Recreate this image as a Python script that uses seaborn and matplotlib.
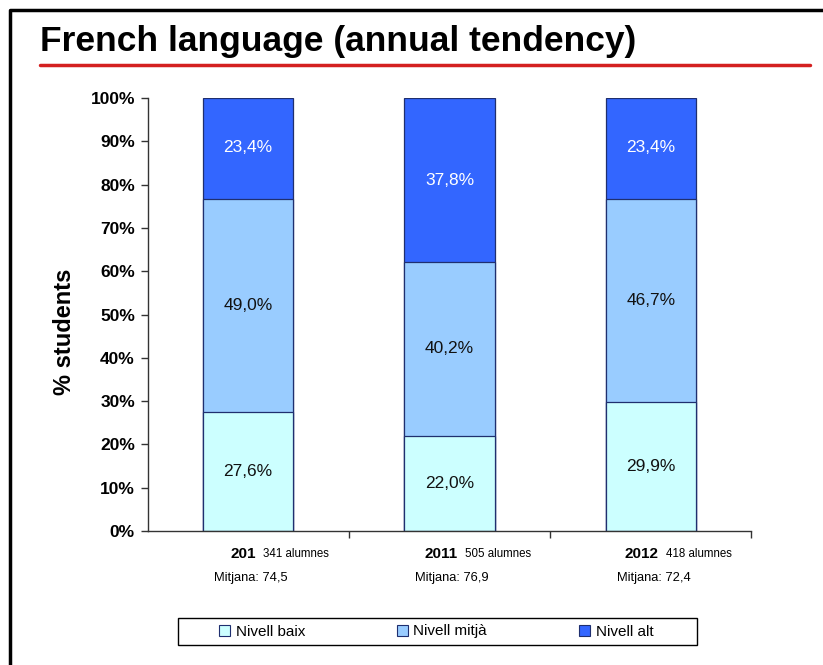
import pandas as pd
import matplotlib.pyplot as plt
import seaborn as sns
from matplotlib.patches import Patch, Rectangle
from matplotlib.lines import Line2D

# Data
years = ["201", "2011", "2012"]
students = ["341 alumnes", "505 alumnes", "418 alumnes"]
means = ["Mitjana: 74,5", "Mitjana: 76,9", "Mitjana: 72,4"]
baix = [27.6, 22.0, 29.9]
mitja = [49.0, 40.2, 46.7]
alt = [23.4, 37.8, 23.4]

levels = ["Nivell baix", "Nivell mitjà", "Nivell alt"]
colors = ["#CCFFFF", "#99CCFF", "#3366FF"]

sns.set_style("white")
plt.rcParams['font.family'] = ['Liberation Sans', 'DejaVu Sans']
plt.rcParams['text.color'] = 'black'
plt.rcParams['axes.labelcolor'] = 'black'
plt.rcParams['ytick.color'] = 'black'

df = pd.DataFrame({"year": years, "baix": baix, "mitja": mitja, "alt": alt})
df["cum1"] = df["baix"]
df["cum2"] = df["baix"] + df["mitja"]
df["cum3"] = df["cum2"] + df["alt"]

fig = plt.figure(figsize=(8.23, 6.65), dpi=100)
ax = fig.add_axes([147.5 / 823, 0.2015, 604 / 823, 0.651])

# stacked bars: draw tallest first
for col, c in zip(["cum3", "cum2", "cum1"], colors[::-1]):
    sns.barplot(data=df, x="year", y=col, color=c, width=0.448,
                edgecolor="#1F2F6F", linewidth=0.9, saturation=1, ax=ax)

# segment labels
for i in range(len(years)):
    segs = [(0, baix[i]), (baix[i], mitja[i]), (baix[i] + mitja[i], alt[i])]
    for j, (b, h) in enumerate(segs):
        yy = b + h / 2 if j < 2 else b + h - 11.5
        if j == 2 and h > 30:
            yy = b + h - 19
        ax.text(i, yy, f"{h:.1f}%".replace(".", ","), ha="center", va="center",
                fontsize=12.5, color="white" if j == 2 else "#111111")

ax.set_xlim(-0.5, 2.5)
ax.set_ylim(0, 100)
ax.set_yticks(range(0, 101, 10))
ax.set_yticklabels([f"{v}%" for v in range(0, 101, 10)], fontweight="bold", fontsize=12.5)
ax.set_xticks([0.5, 1.5, 2.5])
ax.set_xticklabels([])
ax.tick_params(axis="both", direction="out", length=5, width=1, color="#333333",
               left=True, bottom=True, pad=4)
ax.set_xlabel("")
ax.set_ylabel("% students", fontweight="bold", fontsize=17)
ax.yaxis.set_label_coords(-0.118, 0.46)
for s in ["top", "right"]:
    ax.spines[s].set_visible(False)
for s in ["left", "bottom"]:
    ax.spines[s].set_color("#333333")
    ax.spines[s].set_linewidth(1)

tr = ax.get_xaxis_transform()
for i in range(len(years)):
    ax.text(i + 0.04, -0.052, years[i], transform=tr, ha="right", va="center",
            fontsize=11, fontweight="bold")
    ax.text(i + 0.075, -0.052, students[i], transform=tr, ha="left", va="center", fontsize=8.3)
    ax.text(i - 0.17, -0.108, means[i], transform=tr, ha="left", va="center", fontsize=9.3)

# title and red rule
fig.text(40 / 823, 1 - 42 / 665, "French language (annual tendency)", fontsize=25.5,
         fontweight="bold", ha="left", va="center")
fig.add_artist(Line2D([40 / 823, 810 / 823], [1 - 65 / 665, 1 - 65 / 665],
                      color="#D42020", linewidth=2.5, transform=fig.transFigure))
# frame on left / top
fig.add_artist(Line2D([10 / 823, 10 / 823, 1], [0, 1 - 10 / 665, 1 - 10 / 665],
                      color="black", linewidth=2.5, transform=fig.transFigure))

# legend box
fig.add_artist(Rectangle((178 / 823, 1 - 645 / 665), 519 / 823, 27 / 665,
                         transform=fig.transFigure, facecolor="white",
                         edgecolor="black", linewidth=1))
handles = [Patch(facecolor=c, edgecolor="#1F2F6F", linewidth=0.8) for c in colors]
leg = fig.legend(handles, levels, loc="center", ncol=3,
                 bbox_to_anchor=(436 / 823, 1 - 631.5 / 665),
                 fontsize=11, frameon=False, columnspacing=6.0,
                 handlelength=0.75, handleheight=0.75, handletextpad=0.35)
leg.set_zorder(5)

fig.savefig("out.png", dpi=100)
